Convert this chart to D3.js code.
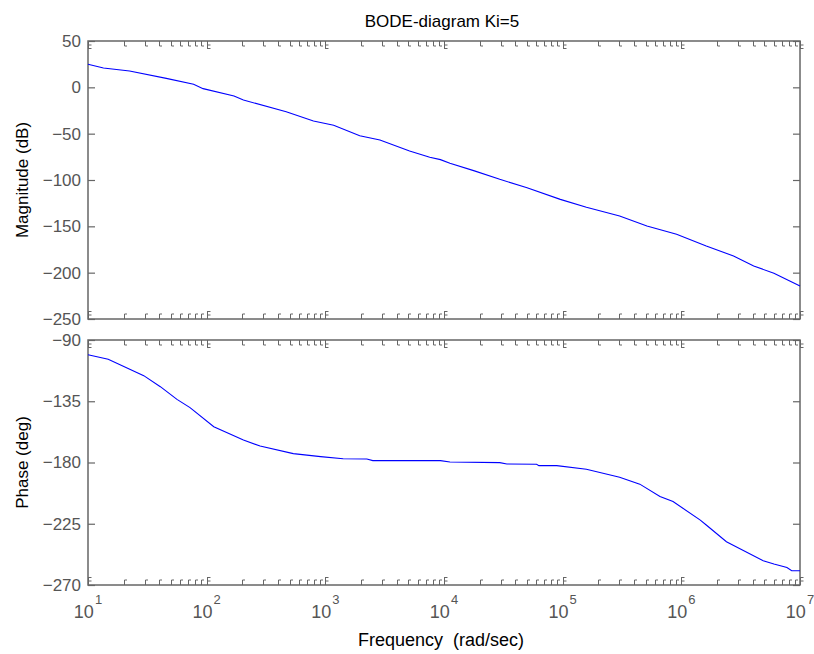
<!DOCTYPE html>
<html>
<head>
<meta charset="utf-8">
<script src="https://cdn.jsdelivr.net/npm/d3@7"></script>
<style>
  body { margin: 0; background: #fff; }
  text { font-family: "Liberation Sans", Arial, sans-serif; }
</style>
</head>
<body>
<script>
// magnitude curve (rad/sec, dB)
const magFreq = [1e1, 1.35e1, 2.24e1, 4.57e1, 7.76e1, 9.33e1, 1.7e2, 2.04e2, 4.68e2, 7.94e2,
  1.175e3, 1.95e3, 2.884e3, 5.129e3, 7.586e3, 9.333e3, 1.122e4, 1.778e4, 2.951e4, 5.012e4,
  9.55e4, 1.585e5, 3.02e5, 5.129e5, 9.12e5, 1.622e6, 2.754e6, 4.074e6, 6.026e6, 1e7];
const magDb = [24.9, 20.9, 17.6, 9.7, 3.3, -1.4, -9.4, -13.7, -26.3, -36.3,
  -41, -52.2, -56.8, -68.7, -75.5, -78, -82, -89.9, -99.3, -108.3,
  -120.9, -129.5, -138.9, -149.6, -158.6, -171.2, -182, -192.8, -200.6, -214.4];

// phase curve (rad/sec, deg)
const phaseFreq = [1e1, 1.48e1, 2.95e1, 4.07e1, 5.62e1, 7.24e1, 1.148e2, 2.04e2, 2.82e2, 5.37e2,
  9.12e2, 1.413e3, 2.239e3, 2.512e3, 9.333e3, 1.122e4, 2.951e4, 3.388e4, 6.026e4, 6.31e4,
  8.913e4, 1.585e5, 3.02e5, 4.467e5, 6.607e5, 8.511e5, 1.445e6, 1.622e6, 2.399e6, 3.09e6,
  4.898e6, 6.026e6, 7.762e6, 8.511e6, 1e7];
const phaseDeg = [-100.8, -104.2, -116.2, -124.3, -133.6, -139.7, -153.7, -163.5, -167.9, -173.5,
  -175.7, -177.2, -177.4, -178.6, -178.6, -179.6, -180.1, -181.1, -181.3, -182.3,
  -182.3, -184.9, -190.8, -195.9, -205, -208.7, -222.3, -225.9, -238.2, -243.1,
  -252.2, -254.6, -257.1, -259.5, -259.5];

const magTicks = [50, 0, -50, -100, -150, -200, -250];
const phaseTicks = [-90, -135, -180, -225, -270];
const decadeTicks = [1e1, 1e2, 1e3, 1e4, 1e5, 1e6, 1e7];
const decadeExp = ["1", "2", "3", "4", "5", "6", "7"];

const width = 814, height = 654;
const left = 88, right = 800;
const magTop = 41, magBottom = 319;
const phTop = 340, phBottom = 585;
const axisColor = "#666", labelColor = "#555";

var svg = d3
  .select("body")
  .append("svg")
  .attr("width", width)
  .attr("height", height);

var x = d3.scaleLog().domain([1e1, 1e7]).range([left, right]);
var yMag = d3.scaleLinear().domain([-250, 50]).range([magBottom, magTop]);
var yPh = d3.scaleLinear().domain([-270, -90]).range([phBottom, phTop]);

// minor ticks 2..9 in every decade
const minorTicks = [];
decadeTicks.slice(0, -1).forEach(function (d) {
  d3.range(2, 10).forEach(function (k) {
    minorTicks.push(d * k);
  });
});

function drawPanel(y, top, bottom, ticks) {
  const g = svg.append("g");

  // left axis with labels, ticks pointing in
  g.append("g")
    .attr("transform", `translate(${left},0)`)
    .call(d3.axisLeft(y).tickValues(ticks).tickSize(-7).tickPadding(7))
    .call((a) => a.select(".domain").remove())
    .call((a) => a.selectAll("line").attr("stroke", axisColor).attr("stroke-width", 1.2))
    .call((a) =>
      a.selectAll("text")
        .attr("fill", labelColor)
        .style("font-size", "17px")
    );

  // right axis, ticks only
  g.append("g")
    .attr("transform", `translate(${right},0)`)
    .call(d3.axisRight(y).tickValues(ticks).tickSize(-7).tickFormat(""))
    .call((a) => a.select(".domain").remove())
    .call((a) => a.selectAll("line").attr("stroke", axisColor).attr("stroke-width", 1.2));

  // x ticks on top and bottom edges (little hooked marks like the original)
  [
    { edge: top, dir: 1 },
    { edge: bottom, dir: -1 },
  ].forEach(function (e) {
    g.selectAll(null)
      .data(minorTicks)
      .enter()
      .append("path")
      .attr("d", function (d) {
        const px = Math.round(x(d)) + 0.5;
        return `M${px},${e.edge} v${e.dir * 5} h2.5`;
      })
      .attr("fill", "none")
      .attr("stroke", axisColor)
      .attr("stroke-width", 1);

    g.selectAll(null)
      .data(decadeTicks)
      .enter()
      .append("path")
      .attr("d", function (d) {
        const px = Math.round(x(d)) + 0.5;
        return `M${px},${e.edge} v${e.dir * 8} M${px},${e.edge + e.dir * 4} h3 M${px},${e.edge + e.dir * 7.5} h3`;
      })
      .attr("fill", "none")
      .attr("stroke", axisColor)
      .attr("stroke-width", 1);
  });

  // frame
  g.append("rect")
    .attr("x", left)
    .attr("y", top)
    .attr("width", right - left)
    .attr("height", bottom - top)
    .attr("fill", "none")
    .attr("stroke", axisColor)
    .attr("stroke-width", 1.5);

  return g;
}

drawPanel(yMag, magTop, magBottom, magTicks);
drawPanel(yPh, phTop, phBottom, phaseTicks);

const magLine = d3
  .line()
  .x((d) => x(d[0]))
  .y((d) => yMag(d[1]));
const phLine = d3
  .line()
  .x((d) => x(d[0]))
  .y((d) => yPh(d[1]));

svg
  .append("path")
  .datum(d3.zip(magFreq, magDb))
  .attr("d", magLine)
  .attr("fill", "none")
  .attr("stroke", "#0000ff")
  .attr("stroke-width", 1.1);

svg
  .append("path")
  .datum(d3.zip(phaseFreq, phaseDeg))
  .attr("d", phLine)
  .attr("fill", "none")
  .attr("stroke", "#0000ff")
  .attr("stroke-width", 1.1);

// decade labels 10^n under the phase panel
var xl = svg
  .selectAll(".dec-label")
  .data(decadeTicks)
  .enter()
  .append("text")
  .attr("class", "dec-label")
  .attr("x", (d) => x(d))
  .attr("y", 618)
  .attr("text-anchor", "middle")
  .attr("fill", labelColor)
  .style("font-size", "18px");
xl.append("tspan").text("10");
xl.append("tspan")
  .attr("dx", 1)
  .attr("dy", -14)
  .style("font-size", "13px")
  .text((d, i) => decadeExp[i]);

// titles
svg
  .append("text")
  .attr("x", 442)
  .attr("y", 27)
  .attr("text-anchor", "middle")
  .style("font-size", "17px")
  .text("BODE-diagram Ki=5");

svg
  .append("text")
  .attr("x", 441)
  .attr("y", 646)
  .attr("text-anchor", "middle")
  .style("font-size", "18px")
  .style("white-space", "pre")
  .text("Frequency  (rad/sec)");

svg
  .append("text")
  .attr("transform", `translate(28,${(magTop + magBottom) / 2}) rotate(-90)`)
  .attr("text-anchor", "middle")
  .style("font-size", "17px")
  .text("Magnitude (dB)");

svg
  .append("text")
  .attr("transform", `translate(28,${(phTop + phBottom) / 2}) rotate(-90)`)
  .attr("text-anchor", "middle")
  .style("font-size", "17px")
  .text("Phase (deg)");
</script>
</body>
</html>
